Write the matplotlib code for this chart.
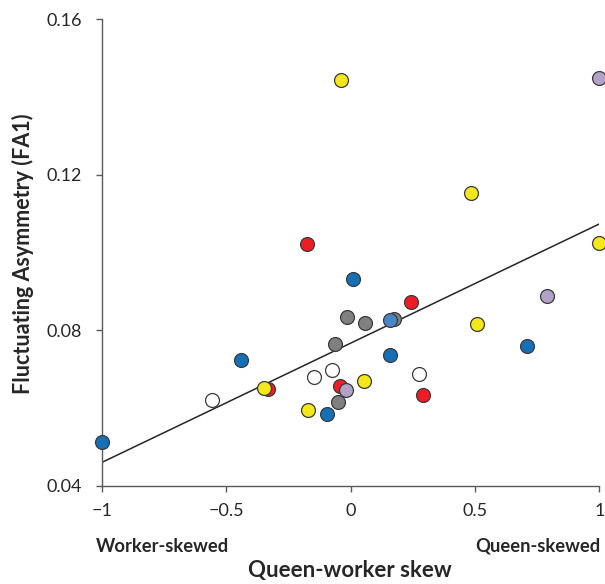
import matplotlib
matplotlib.use("Agg")
import matplotlib.pyplot as plt

plt.rcParams['font.family'] = ['Lato', 'DejaVu Sans']

# Data (queen-worker skew, FA1), grouped by colour
blue_x = [-1.0, -0.441, -0.095, 0.011, 0.158, 0.708]
blue_y = [0.0513, 0.0722, 0.0585, 0.0931, 0.0736, 0.0759]
yellow_x = [-0.040, 0.483, 1.0, 0.507, -0.348, 0.054, -0.171]
yellow_y = [0.1443, 0.1152, 0.1023, 0.0815, 0.0651, 0.0670, 0.0595]
red_x = [-0.177, 0.242, -0.334, -0.043, 0.289]
red_y = [0.1022, 0.0873, 0.0648, 0.0657, 0.0633]
grey_x = [-0.016, 0.059, 0.175, -0.063, -0.052]
grey_y = [0.0833, 0.0819, 0.0828, 0.0764, 0.0614]
white_x = [-0.558, -0.146, -0.076, 0.274]
white_y = [0.0621, 0.0680, 0.0698, 0.0686]
lav_x = [1.0, 0.789, -0.019]
lav_y = [0.1448, 0.0889, 0.0646]
lightblue_x = [0.158]
lightblue_y = [0.0825]

fit_x = [-1.0, 1.0]
fit_y = [0.0460, 0.1073]

xticks = [-1, -0.5, 0, 0.5, 1]
xticklabels = ['\u22121', '\u22120.5', '0', '0.5', '1']
yticks = [0.04, 0.08, 0.12, 0.16]
yticklabels = ['0.04', '0.08', '0.12', '0.16']

fig = plt.figure(figsize=(6.05, 5.84), dpi=100)
ax = fig.add_axes([102/605, 1-485.7/584, 497.3/605, 466.7/584])

ax.plot(fit_x, fit_y, color='#262626', lw=1.1, zorder=2)

common = dict(s=100, edgecolors='#3a3a3a', linewidths=0.9, clip_on=False, zorder=3)
ax.scatter(grey_x, grey_y, c='#808080', **common)
ax.scatter(white_x, white_y, c='#ffffff', **common)
ax.scatter(red_x, red_y, c='#ee1c25', **common)
ax.scatter(yellow_x, yellow_y, c='#f5e81a', **common)
ax.scatter(blue_x, blue_y, c='#1570b8', **common)
ax.scatter(lav_x, lav_y, c='#b3a2c8', **common)
ax.scatter(lightblue_x, lightblue_y, c='#4a85c5', **common)

ax.set_xlim(-1, 1)
ax.set_ylim(0.04, 0.16)
ax.set_xticks(xticks)
ax.set_xticklabels(xticklabels)
ax.set_yticks(yticks)
ax.set_yticklabels(yticklabels)

for s in ['top', 'right']:
    ax.spines[s].set_visible(False)
for s in ['left', 'bottom']:
    ax.spines[s].set_color('#595959')
    ax.spines[s].set_linewidth(1.0)
ax.tick_params(direction='out', length=4.5, width=1.0, color='#595959',
               labelsize=13, labelcolor='#262626')
ax.tick_params(axis='x', pad=8)
ax.tick_params(axis='y', pad=10)

fig.text(23/605, 1-254/584, 'Fluctuating Asymmetry (FA1)', rotation=90,
         ha='center', va='center', fontsize=15.5, fontweight='bold', color='#262626')
fig.text(350/605, 1-571/584, 'Queen-worker skew', ha='center', va='center',
         fontsize=16, fontweight='bold', color='#262626')
fig.text(96/605, 1-546/584, 'Worker-skewed', ha='left', va='center',
         fontsize=13.2, fontweight='bold', color='#262626')
fig.text(601/605, 1-546/584, 'Queen-skewed', ha='right', va='center',
         fontsize=13.2, fontweight='bold', color='#262626')

fig.savefig('out.png', dpi=100)
